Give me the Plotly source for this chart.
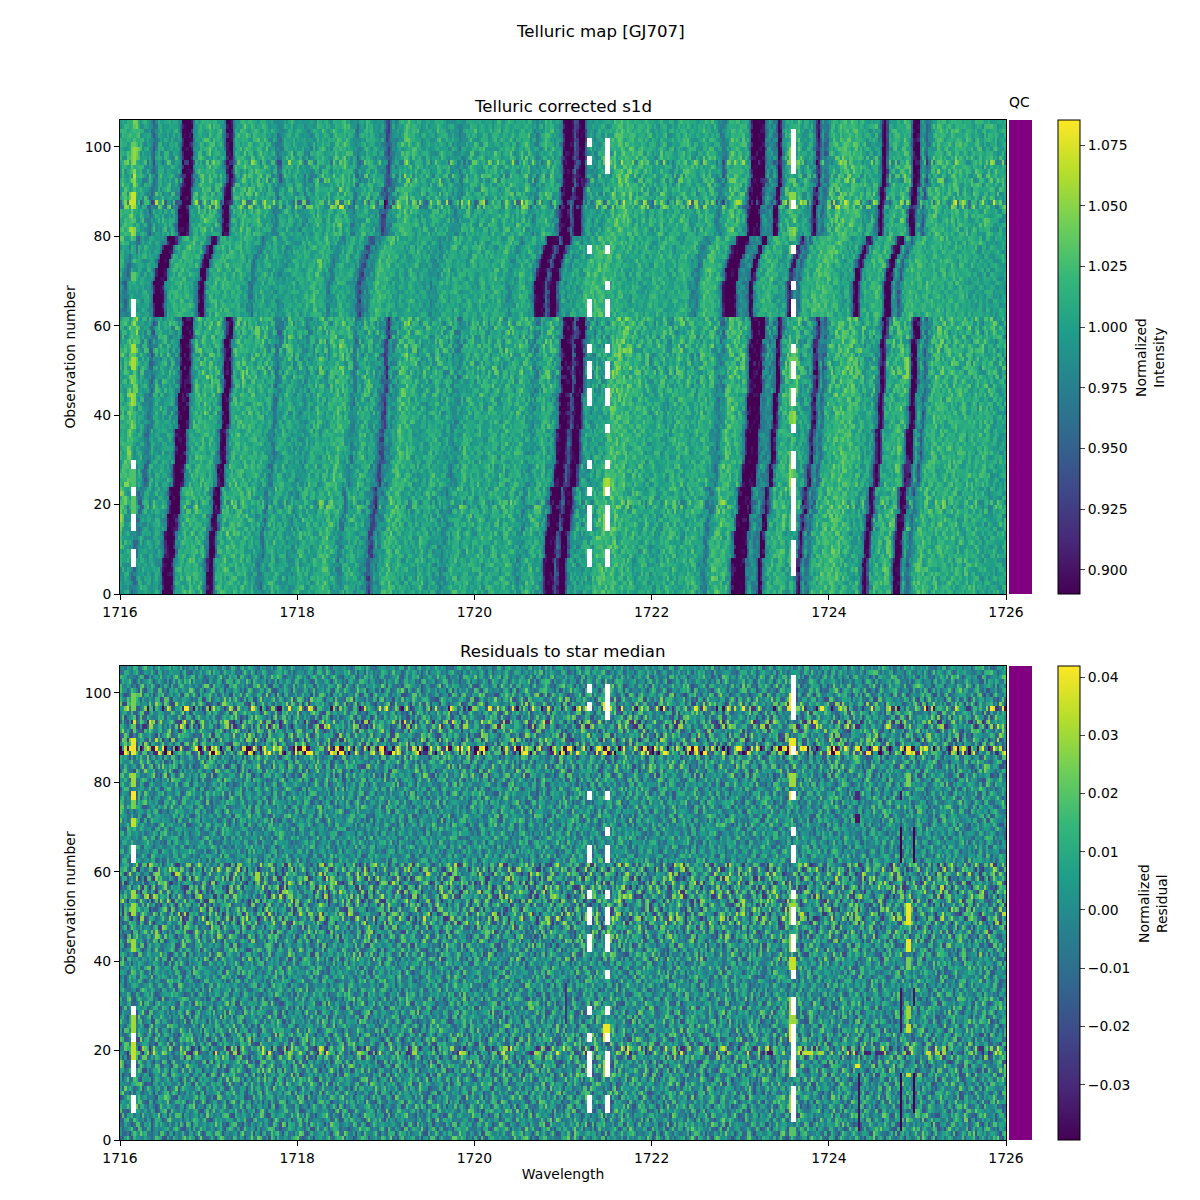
import numpy as np
import plotly.graph_objects as go

# star median spectrum, read from the top rows, one value per 0.025 in wavelength
star_profile = [
    1.00, 1.01, 1.01, 1.01, 1.01, 1.02, 1.03, 1.03, 1.02, 1.00, 1.00, 1.00, 1.00, 0.99, 0.97, 0.96, 0.98, 1.00, 1.00, 1.00,
    1.00, 1.00, 1.00, 1.00, 1.00, 1.00, 0.99, 0.97, 0.90, 0.88, 0.88, 0.88, 0.90, 0.97, 1.00, 1.01, 1.01, 1.01, 1.01, 1.01,
    1.02, 1.01, 1.01, 1.01, 1.01, 1.01, 0.99, 0.97, 0.90, 0.88, 0.89, 0.96, 1.00, 1.01, 1.01, 1.01, 1.02, 1.01, 1.01, 1.01,
    1.01, 1.01, 1.01, 1.01, 1.01, 1.01, 1.01, 1.00, 1.00, 1.00, 0.99, 0.97, 0.97, 0.99, 1.00, 1.00, 1.01, 1.01, 1.00, 1.00,
    1.00, 1.00, 1.00, 0.99, 0.99, 0.99, 0.99, 1.00, 1.00, 1.01, 1.00, 1.01, 1.01, 1.00, 1.00, 1.00, 1.01, 1.01, 1.01, 1.01,
    1.02, 1.02, 1.01, 1.01, 1.00, 1.00, 0.98, 0.97, 0.99, 1.00, 1.00, 1.01, 1.01, 1.01, 1.00, 1.00, 1.00, 0.99, 0.99, 0.97,
    0.94, 0.93, 0.97, 0.99, 0.98, 0.99, 1.00, 1.01, 1.02, 1.02, 1.02, 1.01, 1.01, 1.01, 1.01, 1.00, 1.00, 1.00, 1.00, 1.00,
    1.00, 1.00, 1.00, 1.01, 1.01, 1.01, 1.00, 1.00, 1.00, 1.00, 1.00, 0.99, 0.99, 0.98, 0.99, 0.99, 1.00, 1.00, 1.01, 1.01,
    1.01, 1.00, 1.00, 1.00, 1.01, 1.01, 1.00, 1.00, 1.00, 1.01, 1.01, 1.01, 1.00, 1.00, 1.00, 1.01, 1.01, 1.01, 1.00, 1.00,
    1.00, 1.01, 1.01, 1.01, 1.01, 1.00, 1.00, 0.99, 0.98, 0.99, 1.00, 1.00, 1.01, 1.01, 1.01, 1.01, 1.00, 1.00, 0.99, 0.97,
    0.90, 0.88, 0.88, 0.88, 0.90, 0.95, 0.92, 0.88, 0.88, 0.88, 0.94, 0.98, 1.00, 1.00, 0.99, 0.99, 1.00, 1.00, 1.00, 1.00,
    1.00, 1.00, 1.01, 1.02, 1.02, 1.02, 1.02, 1.02, 1.02, 1.02, 1.02, 1.02, 1.01, 1.01, 1.01, 1.01, 1.01, 1.01, 1.01, 1.01,
    1.00, 1.00, 1.00, 1.00, 1.01, 1.01, 1.01, 1.00, 1.00, 1.00, 1.00, 1.00, 1.01, 1.01, 1.01, 1.01, 1.01, 1.01, 1.01, 1.00,
    1.00, 1.00, 1.00, 1.01, 1.01, 1.01, 1.01, 1.01, 1.01, 1.00, 0.99, 0.98, 0.97, 0.98, 1.00, 1.01, 1.02, 1.02, 1.02, 1.01,
    1.01, 1.01, 1.01, 1.00, 0.97, 0.90, 0.88, 0.88, 0.88, 0.88, 0.89, 0.96, 0.98, 0.99, 0.98, 0.98, 0.96, 0.88, 0.90, 0.98,
    1.00, 1.01, 1.01, 1.01, 1.01, 1.01, 1.02, 1.01, 1.00, 1.00, 1.00, 1.00, 1.00, 0.98, 0.92, 0.90, 0.96, 0.99, 0.96, 0.97,
    1.00, 1.01, 1.01, 1.01, 1.01, 1.02, 1.02, 1.02, 1.02, 1.02, 1.02, 1.02, 1.02, 1.01, 1.01, 1.01, 1.01, 1.00, 1.00, 1.00,
    1.00, 1.01, 0.99, 0.97, 0.90, 0.88, 0.93, 1.00, 1.00, 1.01, 1.01, 1.01, 1.01, 1.01, 1.02, 1.02, 1.01, 0.96, 0.89, 0.88,
    0.89, 0.97, 1.00, 0.98, 0.95, 0.98, 1.00, 1.01, 1.01, 1.02, 1.02, 1.01, 1.01, 1.01, 1.01, 1.01, 1.01, 1.02, 1.01, 1.01,
    1.01, 1.01, 1.01, 1.01, 1.01, 1.00, 1.01, 1.01, 1.01, 1.00, 1.01, 1.01, 1.01, 1.01, 1.01, 1.01, 1.00, 1.00, 1.00, 1.00,
]

obs_shift = [
    -9, -9, -9, -9, -9, -9, -9, -9, -8, -8, -8, -8, -8, -8, -7, -7, -7, -7, -6, -6,
    -6, -6, -6, -6, -4, -4, -4, -4, -4, -3, -3, -3, -3, -3, -3, -3, -3, -2, -2, -2,
    -2, -2, -2, -2, -2, -1, -1, -1, -1, -1, -1, -1, -1, -1, -1, -1, -1, 0, 0, 0,
    0, 0, -13, -13, -13, -13, -13, -13, -13, -13, -12, -12, -12, -11, -11, -10, -9, -9, -7, -7,
    -2, -2, -2, -2, -2, -2, -2, -1, -1, -1, -1, 0, 0, 0, 0, 0, 0, 0, 0, 0,
    0, 0, 0, 0, 0, 0,
]

# how strong the pixel scatter looks in each observation
obs_scatter = [
    1.0, 1.0, 1.0, 1.0, 1.0, 1.0, 1.0, 1.0, 1.0, 1.0, 1.0, 1.0, 1.0, 1.0, 1.1, 1.1, 1.1, 1.1, 1.2, 1.6,
    1.6, 1.1, 1.1, 1.1, 1.0, 1.0, 1.0, 1.0, 1.0, 1.0, 1.0, 1.0, 0.9, 0.9, 0.9, 0.9, 0.9, 0.9, 0.9, 0.9,
    1.1, 1.1, 1.1, 1.1, 1.1, 1.2, 1.2, 1.2, 1.4, 1.5, 1.4, 1.3, 1.3, 1.4, 1.4, 1.4, 1.4, 1.4, 1.4, 1.4,
    1.4, 1.4, 0.8, 0.8, 0.8, 0.8, 0.8, 0.8, 0.8, 0.8, 0.9, 0.9, 0.9, 0.9, 0.9, 0.9, 0.9, 0.9, 0.9, 0.9,
    1.0, 1.1, 1.1, 1.1, 1.0, 1.0, 2.3, 2.8, 1.2, 1.4, 1.2, 1.2, 1.6, 1.6, 1.1, 1.1, 2.0, 1.2, 1.1, 1.1,
    1.0, 1.0, 0.9, 0.9, 0.8, 0.8,
]

# pixel texture of the residuals, 0 most negative, 9 most positive.
# An estimate of the look of the pixels, not a cell by cell reading.
texture_rows = [
    "45364727534463185645 37524664382957443516 64473529465318644725 53846273149564382645 72453618645493726435 56284417365274593864 43672951346645273845 61753944265738145466 35827446193564728354 46352784519643762534",
    "53716445829365414763 64255397446182563744 35964217653844729135 46638252741965343586 24571863549226473958 43165784932564417386 75243695148763524964 38215647493165738542 64479231586347625183 56941327654283745961",
    "64238517464935261748 45719363528466193745 52846371954623784153 67341529865147362948 43578162435964281753 46692315748534169627 35487621945376128546 72465398132654739464 53187264945623817365 44729536128463759246",
    "37561924468327615493 58246379144563827964 26715483946357216845 43968257136744529386 51684327945162738654 62437591846325749163 47853162494576328145 36194827556348217964 64271538946153724856 35468912637544286137",
    "46823571546253418765 35794162835647319254 68345217346382651743 52176483545367214689 74365182456973428165 43629175864352948617 35817469234576183946 62548137746325817463 47396254186437295864 53728164395476218645",
    "52947316485362714956 46183725664358271649 37564829146375928416 65243817594326871453 46759218364583726194 53876124495367281546 24698375146752938461 76314582446138265473 45827369156443728965 38265174546352817643",
    "43716825346371528463 68245739163584271546 45319762843657291485 37624518446273845167 54983267145368427916 46172539864357126845 75348261546325784165 34967152843674529316 62584317346253781464 47136285964537182456",
    "65824317546358271463 34769152846325917486 52418367445236817645 46973582146375284916 38216745963548271465 54637281346153728466 27485396152647389154 63742518664327185436 46159327854623974185 54283716446357281546",
    "34785162746325817465 56213749864572193648 43678215546382715463 75142386445367218456 46821375646153827643 35967428146382759164 62417583346237581462 48356217746375218546 53692471864253718946 47251836245362817643",
    "56347182646523718465 43827615346372518649 67152438964237185463 35846721565347281546 54279163845627391846 46318752264358172496 73584216445362817465 34697251846372518546 52473618365437281654 65182734446352187463",
    "47236518164372518463 55813724746635271849 36479215864372951846 64158327446253817465 43726589146375219486 58342716546358172643 25687413365247381654 74315628246137285463 46892371546325819746 33574261895462738164",
    "63425817246372815464 47162539864327195483 54938216745683271546 36724158646375218463 65281734956423817564 43579126845367291846 58146327545263718546 26473819564372851364 75318246665327184635 46527183446352718465",
    "35764218346325817463 64283715646372518465 46517329864253971846 53879214635746218936 47126358545267381546 62435781746325817465 34968215746384251976 56217483364537218465 43675128446253718463 74382516246137285465",
    "46258317164352718463 53742186745637281546 37815629846372951463 65293417846527381364 44716352986457213846 56328174546325871463 27584613345362718946 63471258664237185463 45936172846352718546 52184736445362817465",
    "64315728746372518463 36872415264253718546 58246137445637281963 43517286646325817465 76154382546135728463 35628417365347281546 54793216846375219648 46182537764352718465 33765421896457283164 65247813246362518473",
    "47583216545637281465 54126738764325817463 36897421546372859164 65314728364253718546 43856217646375218463 57241386245362817465 26478135565427381946 74362518346137285463 45719236846352718346 53286174646362518473",
    "56124738264352718465 43785216546372518463 67243518346253781746 35961427846372518465 54378126745637281546 46825173364325817463 73514268546135728465 36492715846537218246 62157483464253718463 45836217246372815465",
    "34672518546325817465 65217384764352718463 47583126345637281546 53846217446372518465 46195327864253971846 58273416646375218463 25846137265427381546 73415628746325817463 46927315846352718664 54138267345362718465",
    "63582417746372518463 47216358364325817465 54793126846372951846 36845217646253718463 65317428245637281546 43768215546372518364 56124837464352718463 28573416745362718465 74261538346137285463 35946172846527381746",
    "45217836246352718463 63845217564372518465 36572418746325817463 57148326445637281546 44683215346253781465 65327184646372518463 33796521846457213846 52418736164325817465 46873125745362718463 74152638546325817546",
    "72314568346382518463 35817246764352718465 64295317846372951463 43581726546253718365 56743218245637281546 47162835664372518463 25896317846527381465 63417528446325817364 45738216745362718463 56124873346352718465",
    "36845127646372518465 54217386264325817463 73514826446253718546 45869217846372518363 62318745745637281465 33746128564352718546 56983214846457213365 47125638346372518463 64382517746325817465 45217836245362718764",
    "54673218646352718463 46218537464372518465 35847126745637281363 67152348546325817465 43598217846372951546 56124738264253718463 24873516645362718465 75346218346135728463 36915427846527381764 53248617546372518465",
    "46372815146325817463 63514728364352718465 45286317746372518363 54873126245637281465 36145827646253718546 68327514846372951463 43751286564325817465 57246138346362518473 25983417845627391846 74125368746352718465",
]

# which texture lines make up each observation, and how far they are slid along
obs_texture_a = [
    3, 17, 8, 21, 0, 12, 6, 19, 14, 2, 23, 9, 16, 5, 11, 20, 1, 15, 7, 22,
    4, 18, 10, 13, 6, 0, 21, 16, 3, 9, 12, 23, 19, 5, 14, 8, 2, 17, 11, 22,
    7, 1, 20, 15, 13, 4, 10, 18, 0, 23, 6, 12, 16, 21, 3, 9, 8, 19, 14, 2,
    5, 17, 22, 11, 20, 7, 1, 15, 10, 13, 18, 4, 9, 0, 12, 23, 3, 21, 6, 16,
    19, 8, 14, 2, 17, 5, 11, 20, 22, 7, 15, 1, 13, 18, 10, 4, 0, 12, 9, 23,
    16, 3, 21, 6, 8, 19,
]
obs_texture_b = [
    11, 4, 20, 7, 15, 1, 22, 10, 5, 18, 13, 0, 3, 12, 23, 6, 9, 21, 16, 2,
    19, 8, 14, 17, 1, 11, 5, 22, 20, 15, 7, 4, 10, 18, 0, 13, 23, 3, 6, 12,
    9, 21, 16, 19, 2, 14, 8, 17, 11, 5, 1, 22, 20, 7, 15, 4, 18, 10, 13, 0,
    23, 3, 12, 6, 21, 9, 16, 2, 19, 14, 8, 17, 22, 11, 5, 1, 15, 7, 20, 10,
    4, 18, 0, 13, 3, 23, 12, 6, 9, 21, 2, 16, 19, 8, 14, 17, 1, 5, 11, 20,
    7, 22, 15, 4, 10, 18,
]
obs_texture_slide = [
    13, 87, 152, 41, 66, 118, 5, 173, 29, 94, 137, 58, 181, 22, 76, 109, 144, 36, 161, 70,
    9, 125, 53, 188, 84, 17, 132, 61, 99, 45, 170, 27, 112, 3, 156, 78, 39, 141, 91, 64,
    195, 12, 103, 50, 167, 33, 121, 74, 8, 149, 57, 96, 183, 24, 130, 42, 69, 115, 1, 178,
    88, 31, 146, 60, 107, 19, 164, 72, 47, 135, 93, 11, 190, 55, 123, 37, 82, 159, 6, 101,
    68, 175, 26, 128, 44, 97, 15, 154, 79, 34, 186, 62, 110, 21, 139, 51, 168, 86, 4, 119,
    73, 143, 28, 92, 193, 49,
]

# spots that stand out in both maps: first obs, last obs, start and stop wavelength, residual
spot_obs_start = [96, 86, 79, 76, 74, 70, 62, 54, 50, 42, 24, 15, 6,
                  96, 86, 79, 76, 48, 42, 38, 25, 22, 14, 6, 1,
                  96, 22, 14, 87, 48,
                  48, 86, 42, 38, 27, 24, 14, 79, 58]
spot_obs_stop = [100, 90, 82, 78, 76, 72, 66, 56, 53, 45, 30, 22, 10,
                 100, 90, 82, 78, 53, 46, 41, 32, 26, 18, 10, 3,
                 98, 26, 18, 88, 53,
                 53, 88, 45, 41, 30, 26, 15, 82, 60]
spot_start = [1716.125] * 13 + [1723.55] * 12 + [1721.45] * 3 + [1724.3, 1724.3] + [1724.875] * 8 + [1717.525]
spot_stop = [1716.175] * 13 + [1723.625] * 12 + [1721.525] * 3 + [1724.35, 1724.325] + [1724.925] * 8 + [1717.575]
spot_value = [0.025, 0.04, 0.03, 0.045, 0.025, 0.035, 0.04, 0.03, 0.03, 0.03, 0.03, 0.035, 0.03,
              0.04, 0.04, 0.03, 0.045, 0.03, 0.03, 0.035, 0.03, 0.04, 0.03, 0.03, 0.02,
              0.04, 0.04, 0.03, 0.04, 0.025,
              0.04, 0.04, 0.04, 0.025, 0.03, 0.035, 0.035, 0.025, 0.03]

# features that only show in the residual map
resid_obs_start = [2, 76, 71, 2, 24, 76, 62, 6, 30, 62, 26, 19, 19, 19, 19, 19, 19, 19, 16]
resid_obs_stop = [15, 78, 73, 15, 34, 78, 70, 15, 34, 70, 35, 20, 20, 20, 20, 20, 20, 20, 17]
resid_start = [1724.325, 1724.3, 1724.3, 1724.8, 1724.8, 1724.8, 1724.8, 1724.95, 1724.95, 1724.95, 1721.025, 1723.3, 1724.4, 1724.525, 1723.725, 1723.875, 1725.1, 1725.2, 1724.3]
resid_stop = [1724.35, 1724.35, 1724.35, 1724.825, 1724.825, 1724.825, 1724.825, 1724.975, 1724.975, 1724.975, 1721.05, 1723.375, 1724.475, 1724.6, 1723.825, 1723.95, 1725.15, 1725.25, 1724.35]
resid_value = [-0.036, -0.03, -0.035, -0.04, -0.035, -0.035, -0.04, -0.04, -0.035, -0.04, -0.028, -0.035, -0.032, -0.03, 0.035, 0.03, 0.035, 0.03, 0.04]

# white gaps in the maps, first obs and last obs per wavelength column
gap_1716_start = [6, 14, 22, 28, 62]
gap_1716_stop = [10, 18, 24, 30, 66]
gap_1721a_start = [6, 14, 22, 28, 42, 48, 54, 62, 76, 96, 100]
gap_1721a_stop = [10, 20, 24, 30, 46, 52, 56, 66, 78, 98, 102]
gap_1721b_start = [6, 14, 22, 28, 36, 42, 48, 54, 62, 68, 76, 94]
gap_1721b_stop = [10, 20, 24, 30, 38, 46, 52, 56, 66, 70, 78, 102]
gap_1723_start = [4, 14, 24, 28, 36, 42, 48, 54, 62, 68, 76, 86, 94]
gap_1723_stop = [12, 24, 26, 32, 38, 46, 52, 56, 66, 70, 78, 88, 104]
gap_columns = [1716.125, 1721.275, 1721.475, 1723.575]

qc_flags = [1] * 106

x_ticks = [1716, 1718, 1720, 1722, 1724, 1726]
y_ticks = [0, 20, 40, 60, 80, 100]
top_cbar_ticks = [0.900, 0.925, 0.950, 0.975, 1.000, 1.025, 1.050, 1.075]
bottom_cbar_ticks = [-0.03, -0.02, -0.01, 0.00, 0.01, 0.02, 0.03, 0.04]

n_obs = len(obs_shift)
n_col = len(star_profile)
edges_x = 1716 + 0.025 * np.arange(n_col + 1)
edges_y = np.arange(n_obs + 1)


def col(w):
    return int(round((w - 1716) / 0.025))


table = []
for r in texture_rows:
    r = r.replace(" ", "")[:200].ljust(200, "4")
    table.append([(int(c) - 4.5) * 0.0052 for c in r])
table = np.array(table)

# two texture lines side by side give one observation
resid = np.zeros((n_obs, n_col))
for i in range(n_obs):
    resid[i, 0::2] = np.roll(table[obs_texture_a[i]], obs_texture_slide[i])
    resid[i, 1::2] = np.roll(table[obs_texture_b[i]], -obs_texture_slide[i])
resid = resid * np.array(obs_scatter)[:, None]
for a, b, w0, w1, v in zip(spot_obs_start, spot_obs_stop, spot_start, spot_stop, spot_value):
    resid[a:b, col(w0):col(w1)] = v

# map: star spectrum moved to each observation, plus its residuals
moved = []
for s in obs_shift:
    row = np.roll(star_profile, s)
    if s < 0:
        row[s:] = star_profile[-1]
    moved.append(row)
intensity = np.array(moved) + resid

for a, b, w0, w1, v in zip(resid_obs_start, resid_obs_stop, resid_start, resid_stop, resid_value):
    resid[a:b, col(w0):col(w1)] = v

gaps = [(gap_1716_start, gap_1716_stop), (gap_1721a_start, gap_1721a_stop),
        (gap_1721b_start, gap_1721b_stop), (gap_1723_start, gap_1723_stop)]
for w, (starts, stops) in zip(gap_columns, gaps):
    for a, b in zip(starts, stops):
        intensity[a:b, col(w):col(w) + 2] = np.nan
        resid[a:b, col(w):col(w) + 2] = np.nan

font = dict(family="DejaVu Sans", color="black", size=13.9)
title_font = dict(family="DejaVu Sans", color="black", size=16.6)

fig = go.Figure()
fig.add_trace(go.Heatmap(
    z=intensity, x=edges_x, y=edges_y, colorscale="Viridis", zmin=0.89, zmax=1.0853,
    xaxis="x", yaxis="y", hoverongaps=False,
    colorbar=dict(
        x=1058 / 1200, xanchor="left", y=606 / 1200, yanchor="bottom", len=474 / 1200,
        lenmode="fraction", thickness=22, thicknessmode="pixels", outlinecolor="black",
        outlinewidth=1, ticks="outside", ticklen=5, tickvals=top_cbar_ticks, tickformat=".3f",
        tickfont=font, xpad=0, ypad=0,
    ),
))
fig.add_trace(go.Heatmap(
    z=resid, x=edges_x, y=edges_y, colorscale="Viridis", zmin=-0.0395, zmax=0.0419,
    xaxis="x2", yaxis="y2", hoverongaps=False,
    colorbar=dict(
        x=1058 / 1200, xanchor="left", y=60 / 1200, yanchor="bottom", len=474 / 1200,
        lenmode="fraction", thickness=22, thicknessmode="pixels", outlinecolor="black",
        outlinewidth=1, ticks="outside", ticklen=5, tickvals=bottom_cbar_ticks, tickformat=".2f",
        tickfont=font, xpad=0, ypad=0,
    ),
))
purple = [[0, "#800080"], [1, "#800080"]]
qc_z = [[q] for q in qc_flags]
fig.add_trace(go.Heatmap(z=qc_z, colorscale=purple, showscale=False, xaxis="x3", yaxis="y3"))
fig.add_trace(go.Heatmap(z=qc_z, colorscale=purple, showscale=False, xaxis="x4", yaxis="y4"))

axis_style = dict(showgrid=False, zeroline=False, showline=True, linecolor="black", linewidth=1,
                  mirror=True, ticks="outside", ticklen=5, tickcolor="black", tickfont=font)
top_dom = [606 / 1200, 1080 / 1200]
bottom_dom = [60 / 1200, 534 / 1200]
map_x = [120 / 1200, 1006 / 1200]
qc_x = [1009 / 1200, 1032 / 1200]
hidden = dict(visible=False)


def note(text, x, y, f, angle=0):
    return dict(text=text, x=x / 1200, y=1 - y / 1200, xref="paper", yref="paper", showarrow=False,
                font=f, xanchor="center", yanchor="middle", textangle=angle)


fig.update_layout(
    width=1200, height=1200, autosize=False, paper_bgcolor="white", plot_bgcolor="white",
    margin=dict(l=0, r=0, t=0, b=0, autoexpand=False), font=font, showlegend=False,
    xaxis=dict(axis_style, domain=map_x, range=[1716, 1726], tickvals=x_ticks, anchor="y"),
    yaxis=dict(axis_style, domain=top_dom, range=[0, 106], tickvals=y_ticks, anchor="x",
               title=dict(text="Observation number", font=font, standoff=5)),
    xaxis2=dict(axis_style, domain=map_x, range=[1716, 1726], tickvals=x_ticks, anchor="y2",
                title=dict(text="Wavelength", font=font, standoff=4)),
    yaxis2=dict(axis_style, domain=bottom_dom, range=[0, 106], tickvals=y_ticks, anchor="x2",
                title=dict(text="Observation number", font=font, standoff=5)),
    xaxis3=dict(hidden, domain=qc_x, anchor="y3"),
    yaxis3=dict(hidden, domain=top_dom, anchor="x3"),
    xaxis4=dict(hidden, domain=qc_x, anchor="y4"),
    yaxis4=dict(hidden, domain=bottom_dom, anchor="x4"),
    annotations=[
        note("Telluric map [GJ707]", 600, 32, title_font),
        note("Telluric corrected s1d", 563, 106, title_font),
        note("Residuals to star median", 563, 651, title_font),
        note("QC", 1019, 102, font),
        note("Normalized<br>Intensity", 1150, 358, font, -90),
        note("Normalized<br>Residual", 1153, 904, font, -90),
    ],
)
fig.write_html("out.html", config={"displayModeBar": False}, post_script="document.body.style.margin='0';")
